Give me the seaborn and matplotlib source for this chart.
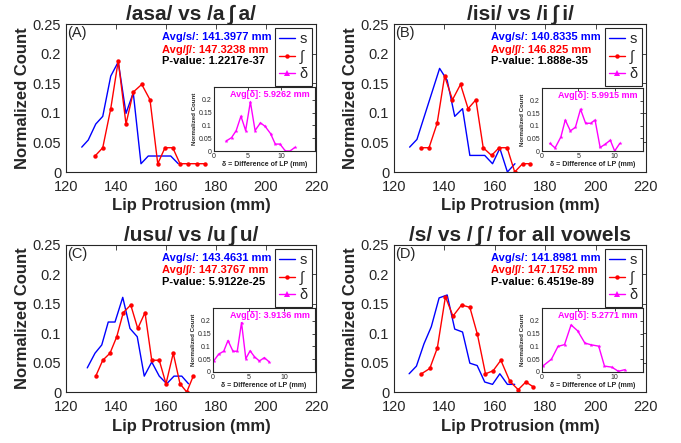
import matplotlib
matplotlib.use("Agg")
import matplotlib.pyplot as plt
import seaborn as sns
from matplotlib.lines import Line2D
from matplotlib.ticker import FormatStrFormatter

# Panel A: /asa/ vs /a∫a/
s_x_a = [126.3, 128.9, 131.9, 134.7, 137.9, 140.9, 144.0, 146.9, 150.0, 152.9, 155.9, 158.9, 161.9, 164.9]
s_y_a = [0.042, 0.054, 0.081, 0.094, 0.162, 0.186, 0.099, 0.134, 0.014, 0.027, 0.027, 0.027, 0.027, 0.014]
sh_x_a = [131.6, 134.7, 137.9, 140.9, 144.0, 146.9, 150.3, 153.6, 156.7, 159.6, 162.7, 165.6, 168.9, 172.3, 175.6]
sh_y_a = [0.027, 0.041, 0.107, 0.188, 0.081, 0.135, 0.148, 0.122, 0.014, 0.041, 0.041, 0.014, 0.014, 0.014, 0.014]
d_x_a = [1.8, 2.6, 3.3, 4.0, 4.7, 5.4, 6.1, 6.9, 7.6, 8.4, 9.1, 9.8, 10.6, 11.3, 12.0]
d_y_a = [0.039, 0.052, 0.080, 0.136, 0.080, 0.192, 0.080, 0.110, 0.096, 0.068, 0.027, 0.027, 0.0, 0.0, 0.014]

# Panel B: /isi/ vs /i∫i/
s_x_b = [126.2, 129.1, 132.1, 135.1, 138.1, 141.1, 144.1, 147.2, 150.1, 153.0, 156.0, 159.1, 162.0, 165.0, 168.0]
s_y_b = [0.042, 0.055, 0.095, 0.135, 0.175, 0.155, 0.094, 0.107, 0.028, 0.028, 0.028, 0.014, 0.040, 0.0, 0.014]
sh_x_b = [130.9, 133.9, 137.1, 140.1, 143.2, 146.4, 149.4, 152.5, 155.4, 158.7, 161.7, 164.9, 167.9, 171.0, 173.9]
sh_y_b = [0.041, 0.041, 0.082, 0.162, 0.122, 0.148, 0.107, 0.122, 0.041, 0.028, 0.041, 0.041, 0.0, 0.014, 0.014]
d_x_b = [1.1, 1.8, 2.6, 3.2, 3.9, 4.6, 5.3, 6.0, 6.7, 7.3, 8.0, 8.7, 9.4, 10.0, 10.7]
d_y_b = [0.030, 0.012, 0.056, 0.123, 0.080, 0.094, 0.166, 0.110, 0.110, 0.123, 0.014, 0.027, 0.043, 0.0, 0.030]

# Panel C: /usu/ vs /u∫u/
s_x_c = [128.5, 131.6, 134.3, 136.9, 139.6, 142.7, 145.6, 148.5, 151.3, 154.3, 157.3, 160.3, 163.2, 166.3, 169.0]
s_y_c = [0.041, 0.066, 0.080, 0.119, 0.119, 0.161, 0.108, 0.094, 0.027, 0.051, 0.027, 0.014, 0.027, 0.027, 0.014]
sh_x_c = [131.9, 134.7, 137.6, 140.3, 142.9, 145.9, 148.7, 151.6, 154.3, 157.3, 160.0, 162.9, 165.6, 168.3, 170.9]
sh_y_c = [0.027, 0.054, 0.066, 0.094, 0.135, 0.148, 0.108, 0.135, 0.054, 0.054, 0.014, 0.066, 0.014, 0.0, 0.027]
d_x_c = [0.1, 0.8, 1.5, 2.1, 2.8, 3.4, 4.0, 4.6, 5.2, 5.8, 6.5, 7.2, 7.9]
d_y_c = [0.043, 0.070, 0.081, 0.123, 0.081, 0.081, 0.193, 0.052, 0.083, 0.060, 0.043, 0.056, 0.039]

# Panel D: all vowels
s_x_d = [126.0, 128.9, 131.9, 134.8, 137.9, 141.1, 144.1, 147.2, 150.1, 153.0, 156.0, 159.1, 162.0, 165.0, 167.9]
s_y_d = [0.031, 0.044, 0.082, 0.111, 0.160, 0.165, 0.107, 0.102, 0.049, 0.045, 0.017, 0.013, 0.031, 0.013, 0.013]
sh_x_d = [130.9, 134.2, 137.2, 140.4, 143.4, 146.8, 150.1, 153.1, 156.3, 159.3, 162.4, 166.0, 169.3, 172.3, 175.2]
sh_y_d = [0.031, 0.040, 0.075, 0.162, 0.129, 0.148, 0.144, 0.098, 0.031, 0.036, 0.054, 0.018, 0.004, 0.017, 0.009]
d_x_d = [0.1, 1.3, 2.2, 3.1, 4.0, 4.9, 5.9, 6.8, 7.8, 8.6, 9.6, 10.5, 11.4]
d_y_d = [0.023, 0.050, 0.100, 0.107, 0.184, 0.161, 0.113, 0.106, 0.101, 0.023, 0.019, 0.003, 0.009]

titles = ["/asa/ vs /a\u2009∫\u2009a/", "/isi/ vs /i\u2009∫\u2009i/",
          "/usu/ vs /u\u2009∫\u2009u/", "/s/ vs /\u2009∫\u2009/ for all vowels"]
letters = ["(A)", "(B)", "(C)", "(D)"]
avg_s = ["141.3977", "140.8335", "143.4631", "141.8981"]
avg_sh = ["147.3238", "146.825", "147.3767", "147.1752"]
p_values = ["1.2217e-37", "1.888e-35", "5.9122e-25", "6.4519e-89"]
avg_delta = ["5.9262", "5.9915", "3.9136", "5.2771"]
inset_xmax = [15, 13.9, 14.3, 13.9]

W, H = 681, 443
# pixel boxes (left, top, right, bottom)
main_boxes = [(66, 24, 316, 172), (394, 24, 646, 172), (66, 245, 316, 392), (394, 245, 646, 392)]
inset_boxes = [(214, 87, 315, 151), (542, 88, 643, 151), (213, 308, 315, 372), (542, 308, 643, 372)]

BLUE, RED, MAGENTA, DARK = "#0000ff", "#ff0000", "#ff00ff", "#262626"


def px_rect(box):
    l, t, r, b = box
    return [l / W, (H - b) / H, (r - l) / W, (b - t) / H]


def style_axes(ax, size, length):
    ax.tick_params(direction="in", top=True, right=True, labelsize=size,
                   length=length, width=0.6, colors=DARK)
    for sp in ax.spines.values():
        sp.set_visible(True)
        sp.set_linewidth(0.8)
        sp.set_color(DARK)


def draw_panel(fig, i, s_x, s_y, sh_x, sh_y, d_x, d_y):
    ax = fig.add_axes(px_rect(main_boxes[i]))
    sns.lineplot(x=s_x, y=s_y, ax=ax, color=BLUE, linewidth=1)
    sns.lineplot(x=sh_x, y=sh_y, ax=ax, color=RED, linewidth=1,
                 marker="o", markersize=3.2, markeredgewidth=0)
    ax.set_xlim(120, 220)
    ax.set_ylim(0, 0.25)
    ax.set_xticks(range(120, 221, 20))
    ax.set_yticks([0, 0.05, 0.1, 0.15, 0.2, 0.25])
    ax.yaxis.set_major_formatter(FormatStrFormatter("%g"))
    style_axes(ax, 10.5, 3.5)
    ax.tick_params(axis="x", pad=6)
    ax.set_xlabel("Lip Protrusion (mm)", fontsize=12, fontweight="bold", labelpad=3)
    ax.set_ylabel("Normalized Count", fontsize=12, fontweight="bold", labelpad=2)
    ax.set_title(titles[i], fontsize=15, fontweight="bold", pad=3)

    ax.text(0.006, 0.985, letters[i], transform=ax.transAxes, fontsize=10.5,
            ha="left", va="top")
    ax.text(0.385, 0.914, f"Avg/s/: {avg_s[i]} mm", color=BLUE, transform=ax.transAxes,
            fontsize=8, fontweight="bold", va="center")
    ax.text(0.385, 0.828, f"Avg/∫/: {avg_sh[i]} mm", color=RED, transform=ax.transAxes,
            fontsize=8, fontweight="bold", va="center")
    ax.text(0.385, 0.75, f"P-value: {p_values[i]}", color="black", transform=ax.transAxes,
            fontsize=8, fontweight="bold", va="center")

    handles = [
        Line2D([], [], color=BLUE, lw=1),
        Line2D([], [], color=RED, lw=1, marker="o", ms=3.2, mew=0),
        Line2D([], [], color=MAGENTA, lw=1, marker="^", ms=4, mew=0),
    ]
    leg = ax.legend(handles, ["s", "∫", "δ"], loc="upper right", fontsize=10.5,
                    fancybox=False, framealpha=1, edgecolor=DARK, handlelength=1.1,
                    handletextpad=0.3, borderpad=0.3, labelspacing=0.25,
                    borderaxespad=0.25)
    leg.get_frame().set_linewidth(0.8)

    # inset with the distribution of differences
    iax = fig.add_axes(px_rect(inset_boxes[i]))
    sns.lineplot(x=d_x, y=d_y, ax=iax, color=MAGENTA, linewidth=1,
                 marker="*", markersize=3, markeredgewidth=0)
    iax.set_xlim(0, inset_xmax[i])
    iax.set_ylim(0, 0.25)
    iax.set_xticks([0, 5, 10])
    iax.set_yticks([0, 0.05, 0.1, 0.15, 0.2])
    iax.yaxis.set_major_formatter(FormatStrFormatter("%g"))
    style_axes(iax, 5, 2)
    iax.tick_params(pad=1.5)
    iax.set_xlabel("δ = Difference of LP (mm)", fontsize=5, fontweight="bold", labelpad=1)
    iax.set_ylabel("Normalized Count", fontsize=4.4, fontweight="bold", labelpad=1)
    iax.text(0.95, 0.88, f"Avg[δ]: {avg_delta[i]} mm", color=MAGENTA, transform=iax.transAxes,
             fontsize=6.5, fontweight="bold", ha="right", va="center")


sns.set_theme(style="white")
plt.rcParams["font.family"] = ["Liberation Sans", "DejaVu Sans"]

fig = plt.figure(figsize=(W / 100, H / 100), dpi=100)
draw_panel(fig, 0, s_x_a, s_y_a, sh_x_a, sh_y_a, d_x_a, d_y_a)
draw_panel(fig, 1, s_x_b, s_y_b, sh_x_b, sh_y_b, d_x_b, d_y_b)
draw_panel(fig, 2, s_x_c, s_y_c, sh_x_c, sh_y_c, d_x_c, d_y_c)
draw_panel(fig, 3, s_x_d, s_y_d, sh_x_d, sh_y_d, d_x_d, d_y_d)

fig.savefig("out.png", dpi=100)
